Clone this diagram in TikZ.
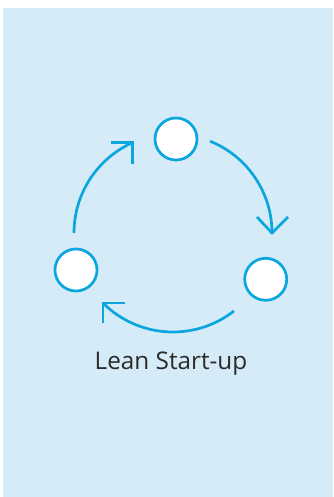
\documentclass[tikz,border=0pt]{standalone}
\usepackage{fontspec}
\setmainfont{Open Sans}
\usetikzlibrary{calc}
\definecolor{bgblue}{HTML}{D6EBF8}
\definecolor{cyanline}{HTML}{0AA6DF}
\definecolor{txtgray}{HTML}{2A2A2A}
\begin{document}
\begin{tikzpicture}[x=1pt,y=1pt,
  stage/.style={circle,draw=cyanline,fill=white,line width=2.7pt,minimum size=42pt,inner sep=0pt},
  cycarc/.style={draw=cyanline,line width=2.7pt},
  barb/.style={draw=cyanline,line width=2.7pt,line join=miter}]
\useasboundingbox (0,0) rectangle (333,497);
\fill[bgblue] (3,0) rectangle (332.5,489);
\coordinate (c) at (173,264);
\node[stage] (top) at (176,358) {};
\node[stage] (right) at (265.7,217.7) {};
\node[stage] (left) at (76,227) {};
% arc 1: top -> right
\draw[cycarc] ($(c)+(68:99)$) arc[start angle=68,end angle=0,radius=99] coordinate (t1);
\draw[barb] (t1) ++(-15,16) -- (t1) -- ++(16,16);
% arc 2: right -> left
\draw[cycarc] ($(c)+(-52:99)$) arc[start angle=-52,end angle=-135,radius=99] coordinate (t2);
\draw[barb] (t2) ++(22,0) -- (t2) -- ++(0,-20);
% arc 3: left -> top
\draw[cycarc] ($(c)+(180:99)$) arc[start angle=180,end angle=114,radius=99] coordinate (t3);
\draw[barb] (t3) ++(-22,0) -- (t3) -- ++(0,-21);
\node[text=txtgray,font=\fontsize{24.3}{28}\selectfont,anchor=base] (lbl) at (171,127) {Lean Start-up};
\end{tikzpicture}
\end{document}
